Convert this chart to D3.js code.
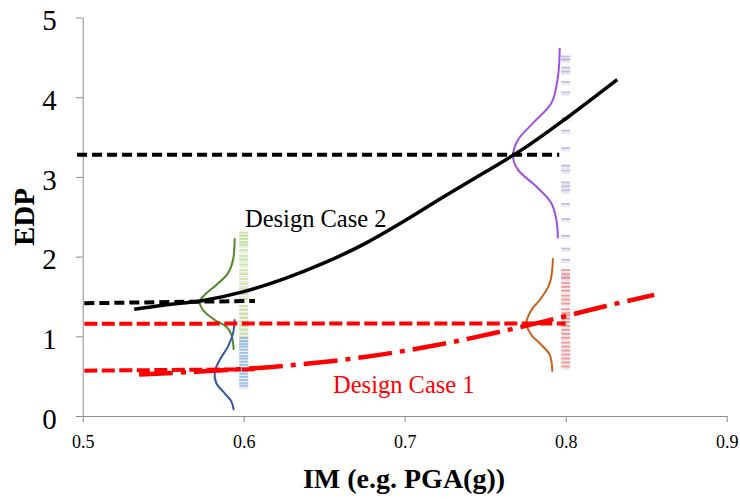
<!DOCTYPE html>
<html><head><meta charset="utf-8">
<script src="https://cdn.jsdelivr.net/npm/d3@7"></script>
<style>body{margin:0;background:#fff}svg{display:block}text{font-family:"Liberation Serif","Times New Roman",serif}</style>
</head><body><svg id="c" width="740" height="499"></svg>
<script>
// ---- data ----
const xTicks = [0.5, 0.6, 0.7, 0.8, 0.9];
const yTicks = [0, 1, 2, 3, 4, 5];
const xTickLabels = ["0.5", "0.6", "0.7", "0.8", "0.9"];
const yTickLabels = ["0", "1", "2", "3", "4", "5"];

// Design Case 2 median EDP curve (black solid)
const case2X = [0.532, 0.55, 0.575, 0.60, 0.625, 0.65, 0.675, 0.70, 0.725, 0.75, 0.775, 0.80, 0.832];
const case2Y = [1.34, 1.39, 1.45, 1.56, 1.72, 1.92, 2.16, 2.45, 2.76, 3.06, 3.37, 3.73, 4.22];
// Design Case 1 median EDP curve (red dash-dot)
const case1X = [0.535, 0.575, 0.625, 0.675, 0.725, 0.775, 0.825, 0.855];
const case1Y = [0.52, 0.56, 0.63, 0.74, 0.91, 1.13, 1.38, 1.52];

// horizontal reference lines [x1, x2, y1, y2]
const blackRefHigh = [0.4965, 0.796, 3.277, 3.277];
const blackRefLow  = [0.501, 0.607, 1.415, 1.444];
const redRefHigh   = [0.501, 0.800, 1.158, 1.162];
const redRefLow    = [0.501, 0.607, 0.569, 0.586];

// distribution curves (x, y pairs)
const greenPdfX = [0.5944, 0.5934, 0.5902, 0.5830, 0.5758, 0.5727, 0.5747, 0.5820, 0.5893, 0.5924, 0.5938];
const greenPdfY = [2.23, 1.96, 1.79, 1.645, 1.52, 1.435, 1.33, 1.205, 1.12, 1.017, 0.83];
const bluePdfX  = [0.5944, 0.5934, 0.5902, 0.5851, 0.5820, 0.5830, 0.5882, 0.5924, 0.5938];
const bluePdfY  = [1.214, 1.038, 0.870, 0.703, 0.556, 0.411, 0.285, 0.180, 0.075];
const brownPdfX = [0.7921, 0.7901, 0.7839, 0.7787, 0.7756, 0.7787, 0.7849, 0.7901, 0.7917];
const brownPdfY = [1.98, 1.666, 1.456, 1.331, 1.164, 1.017, 0.891, 0.766, 0.556];
const purplePdfX = [0.7963, 0.7952, 0.7911, 0.7797, 0.7704, 0.7673, 0.7704, 0.7818, 0.7911, 0.7942, 0.7952];
const purplePdfY = [4.616, 4.26, 3.926, 3.675, 3.465, 3.256, 3.088, 2.879, 2.67, 2.461, 2.231];

// sampled EDP values (marker columns)
const greenSamplesIM = 0.6;
const greenSamples = [2.30, 2.26, 2.22, 2.18, 2.15, 2.08, 2.01, 1.96, 1.90, 1.83, 1.78, 1.72, 1.66, 1.60, 1.53, 1.47, 1.38, 1.33, 1.28, 1.23, 1.18, 1.13, 1.08, 1.03, 0.98, 0.93];
const blueSamplesIM = 0.6;
const blueSamples = [0.98, 0.94, 0.90, 0.87, 0.83, 0.79, 0.75, 0.72, 0.68, 0.64, 0.60, 0.56, 0.53, 0.49, 0.45, 0.41, 0.38];
const purpleSamplesIM = 0.8;
const purpleSamples = [4.51, 4.47, 4.37, 4.32, 4.19, 4.06, 3.74, 3.58, 3.36, 3.14, 3.08, 2.93, 2.88, 2.83, 2.66, 2.47, 2.26, 2.10, 1.96, 1.75];
const redSamplesIM = 0.8;
const redSamples = [1.83, 1.78, 1.73, 1.67, 1.62, 1.57, 1.51, 1.46, 1.41, 1.34, 1.29, 1.26, 1.22, 1.18, 1.13, 1.08, 1.03, 0.98, 0.92, 0.87, 0.82, 0.77, 0.72, 0.67, 0.62];

const annotations = [
  {text: "Design Case 2", x: 0.6008, y: 2.375, color: "#000"},
  {text: "Design Case 1", x: 0.6555, y: 0.285, color: "#ff0000"}
];
const xTitle = "IM (e.g. PGA(g))";
const yTitle = "EDP";

// ---- drawing ----
const svg = d3.select("#c");
const x = d3.scaleLinear().domain([0.5, 0.9]).range([82.7, 726.7]);
const y = d3.scaleLinear().domain([0, 5]).range([416, 17.5]);

// axes
const xAxis = svg.append("g").attr("transform", `translate(0,${y(0)})`)
  .call(d3.axisBottom(x).tickValues(xTicks).tickFormat((d, i) => xTickLabels[i]).tickSize(6).tickSizeOuter(0));
xAxis.select(".domain").attr("stroke", "#8c8c8c");
xAxis.selectAll(".tick line").attr("stroke", "#8c8c8c");
xAxis.selectAll(".tick text").attr("font-size", 18).attr("font-family", "Liberation Serif").attr("fill", "#000").attr("y", 0).attr("dy", 32);

const yAxis = svg.append("g").attr("transform", `translate(${x(0.5)},0)`)
  .call(d3.axisLeft(y).tickValues(yTicks).tickFormat((d, i) => yTickLabels[i]).tickSize(7).tickSizeOuter(0));
yAxis.select(".domain").attr("stroke", "#8c8c8c");
yAxis.selectAll(".tick line").attr("stroke", "#8c8c8c");
yAxis.selectAll(".tick text").attr("font-size", 29).attr("font-family", "Liberation Serif").attr("fill", "#000").attr("x", -26).attr("dy", "0.42em");

// marker columns
function markers(im, vals, color) {
  const g = svg.append("g");
  g.selectAll("rect.s").data(vals).join("rect")
    .attr("x", x(im) - 4.5).attr("y", d => y(d) + 1.6).attr("width", 9).attr("height", 1.6)
    .attr("fill", "#d0d0d0").attr("opacity", 0.5);
  g.selectAll("rect.m").data(vals).join("rect")
    .attr("x", x(im) - 4.5).attr("y", d => y(d) - 1).attr("width", 9).attr("height", 2)
    .attr("fill", color).attr("opacity", 0.6);
}
markers(greenSamplesIM, greenSamples, "#a9d36a");
markers(blueSamplesIM, blueSamples, "#6fa3ea");
markers(purpleSamplesIM, purpleSamples, "#a28ad8");
markers(redSamplesIM, redSamples, "#ec5a5a");

const line = d3.line().x(d => x(d[0])).y(d => y(d[1])).curve(d3.curveCatmullRom.alpha(0.5));
function pairs(xs, ys) { return xs.map((v, i) => [v, ys[i]]); }

// pdf curves
[[greenPdfX, greenPdfY, "#4f8a2b"], [bluePdfX, bluePdfY, "#2d5aa0"],
 [brownPdfX, brownPdfY, "#c5611a"], [purplePdfX, purplePdfY, "#a050e6"]].forEach(([xs, ys, c]) => {
  svg.append("path").attr("d", line(pairs(xs, ys))).attr("fill", "none").attr("stroke", c).attr("stroke-width", 2);
});

// reference dashed lines
function ref(r, color, dash) {
  svg.append("line").attr("x1", x(r[0])).attr("x2", x(r[1])).attr("y1", y(r[2])).attr("y2", y(r[3]))
    .attr("stroke", color).attr("stroke-width", 4).attr("stroke-dasharray", dash);
}
ref(redRefHigh, "#ff0000", "13,4.5");
ref(redRefLow, "#ff0000", "13,4.5");

// median curves
svg.append("path").attr("d", line(pairs(case1X, case1Y))).attr("fill", "none")
  .attr("stroke", "#ff0000").attr("stroke-width", 4.5).attr("stroke-dasharray", "34,8,5,8");
svg.append("path").attr("d", line(pairs(case2X, case2Y))).attr("fill", "none")
  .attr("stroke", "#000").attr("stroke-width", 3.5);

ref(blackRefHigh, "#000", "10,5");
ref(blackRefLow, "#000", "10,5");

// annotations
svg.selectAll("text.ann").data(annotations).join("text").attr("class", "ann")
  .attr("x", d => x(d.x)).attr("y", d => y(d.y)).attr("fill", d => d.color)
  .attr("font-size", 24.5).text(d => d.text);

// titles
svg.append("text").attr("x", 404).attr("y", 488).attr("text-anchor", "middle")
  .attr("font-size", 28).attr("font-weight", "bold").text(xTitle);
svg.append("text").attr("transform", "translate(34,217) rotate(-90)").attr("text-anchor", "middle")
  .attr("font-size", 29).attr("font-weight", "bold").text(yTitle);
</script></body></html>
